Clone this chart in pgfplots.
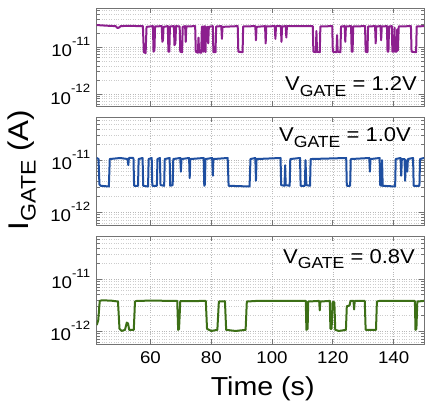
\documentclass[border=0pt]{standalone}
\usepackage{fontspec}
\setmainfont{Liberation Sans}[FakeStretch=1.1]
\usepackage{pgfplots}
\pgfplotsset{compat=1.18}

\definecolor{cpurple}{HTML}{8C1F8E}
\definecolor{cblue}{HTML}{1F4FA0}
\definecolor{cgreen}{HTML}{3C6F16}

\newcommand{\tenpow}[1]{10\raisebox{11.5pt}{\fontsize{12}{13}\selectfont -#1}}
\newcommand{\vg}[1]{\fontsize{20}{22}\selectfont V\raisebox{-5.5pt}{\fontsize{16}{18}\selectfont GATE} = #1V}

\pgfplotsset{
  panel/.style={
    anchor=south west, scale only axis, width=327.3pt,
    xmin=42.3, xmax=150, ymin=5.6e-13, ymax=6.8e-11,
    ytick={1e-12,1e-11}, yticklabels={\tenpow{12},\tenpow{11}},
    minor ytick={6e-13,7e-13,8e-13,9e-13,2e-12,3e-12,4e-12,5e-12,6e-12,7e-12,8e-12,9e-12,
                 2e-11,3e-11,4e-11,5e-11,6e-11},
    xtick={60,80,100,120,140},
    axis line style={black!55, line width=0.9pt},
    major tick style={black!55, line width=0.7pt},
    minor tick style={black!55, line width=0.5pt},
    major tick length=5pt, minor tick length=3pt,
    xmajorgrids, ymajorgrids, yminorgrids,
    major grid style={black!28, dotted, line width=0.6pt},
    minor grid style={black!20, dotted, line width=0.5pt},
    tick label style={font=\fontsize{17}{18}\selectfont},
    yticklabel style={xshift=-3pt},
    /pgf/number format/assume math mode=true,
  }
}

\begin{document}
\begin{tikzpicture}[x=1pt,y=1pt]
\path[use as bounding box] (0,0) rectangle (425,404);

% ---- V_GATE = 1.2 V ------------------------------------------------
\begin{semilogyaxis}[panel, at={(96.7pt,298pt)}, height=98pt, xticklabels={}]
\addplot[cpurple, line width=2pt, line join=round] coordinates {
 (42.3,2.95e-11) (44,2.9e-11) (46,2.85e-11) (48.5,2.8e-11) (49.2,2.55e-11) (49.6,2.6e-11)
 (50.2,2.8e-11) (53,2.85e-11) (56,2.8e-11) (57.5,2.8e-11)
 (57.8,7.8e-12) (58.4,7.5e-12) (58.7,2.7e-11) (60.8,2.8e-11)
 (61.0,8e-12) (61.3,8.5e-12) (61.5,2.75e-11) (63.7,2.8e-11)
 (63.9,1.3e-11) (64.1,1.4e-11) (64.3,2.7e-11) (65.7,2.8e-11)
 (65.9,8e-12) (66.2,8e-12) (66.4,2.75e-11) (67.7,2.8e-11)
 (67.9,1.1e-11) (68.2,1.2e-11) (68.4,2.8e-11) (69.6,2.75e-11)
 (69.8,8e-12) (70.4,7.8e-12) (70.6,2.7e-11) (71.4,2.8e-11)
 (71.6,1.3e-11) (71.8,2.75e-11) (74.7,2.8e-11)
 (74.9,8e-12) (75.6,7.6e-12) (75.8,1.6e-11) (76.0,7.8e-12) (76.7,7.6e-12) (76.9,2.7e-11) (77.2,2.75e-11)
 (77.4,8e-12) (77.6,2.7e-11) (77.9,2.8e-11) (78.1,7.8e-12) (78.3,2.6e-11) (78.8,2.7e-11)
 (79.0,1.2e-11) (79.2,2.7e-11)
 (80.5,2.8e-11) (80.7,7.8e-12) (81.4,7.8e-12) (81.6,2.75e-11) (83.3,2.8e-11) (83.5,1.5e-11) (83.7,2.7e-11)
 (88.7,2.8e-11) (88.9,8e-12) (90.3,7.8e-12) (90.5,2.75e-11)
 (94.5,2.8e-11) (94.7,1.4e-11) (94.9,2.7e-11)
 (97.7,2.8e-11) (97.9,1.2e-11) (98.1,2.75e-11)
 (100.9,2.8e-11) (101.1,1.5e-11) (101.3,2.8e-11)
 (102.9,2.8e-11) (103.1,1.3e-11) (103.3,2.75e-11)
 (104.5,2.8e-11) (104.7,1.6e-11) (104.9,2.8e-11)
 (113.4,2.8e-11) (113.6,8e-12) (114.4,7.8e-12) (114.6,2.2e-11) (114.8,8e-12) (115.7,7.8e-12) (115.9,2.75e-11)
 (119.8,2.8e-11) (120,8e-12) (121.2,7.8e-12) (121.4,1.8e-11) (121.6,8e-12) (122.5,7.8e-12) (122.7,2.75e-11)
 (123.9,2.8e-11) (124.1,1.3e-11) (124.3,2.75e-11)
 (126.0,2.8e-11) (126.2,8e-12) (126.5,8e-12) (126.7,2.75e-11)
 (130.6,2.8e-11) (130.8,8e-12) (131.4,7.8e-12) (131.6,2.75e-11)
 (133.9,2.8e-11) (134.1,1.2e-11) (134.3,2.75e-11)
 (135.7,2.8e-11) (135.9,1.4e-11) (136.1,2.75e-11)
 (137.8,2.8e-11) (138.0,8e-12) (138.3,8e-12) (138.5,2.75e-11)
 (139.4,2.8e-11) (139.6,8e-12) (140.1,8e-12) (140.3,2.6e-11) (140.5,8e-12) (141.0,8e-12)
 (141.2,2.4e-11) (141.4,8.5e-12) (141.7,2.75e-11)
 (145.7,2.8e-11) (145.9,8e-12) (147.4,7.8e-12) (147.6,2.75e-11) (150,2.8e-11)
};
\end{semilogyaxis}

% ---- V_GATE = 1.0 V ------------------------------------------------
\begin{semilogyaxis}[panel, at={(96.7pt,179pt)}, height=108pt, xticklabels={}]
\addplot[cblue, line width=2pt, line join=round] coordinates {
 (42.3,1.1e-11) (42.9,1.05e-11) (43.2,3.4e-12) (43.6,3.2e-12) (46.3,3.1e-12) (46.6,1.05e-11)
 (50,1.1e-11) (52.5,1.05e-11) (52.7,8e-12) (52.9,1.1e-11) (54.4,1.1e-11)
 (54.6,3.2e-12) (55.9,3.2e-12) (56.1,1.05e-11) (57.4,1.1e-11) (57.6,3.2e-12) (59.2,3.1e-12)
 (59.4,1.05e-11) (60.4,1.1e-11) (60.6,3.2e-12) (62.1,3.2e-12) (62.3,1.05e-11) (63.1,1.1e-11)
 (63.3,3.3e-12) (64.5,3.2e-12) (64.7,1.05e-11) (66.3,1.1e-11) (66.5,3.2e-12) (67.3,3.3e-12)
 (67.5,1.05e-11)
 (69.8,1.1e-11) (70,6e-12) (70.2,1.05e-11) (72.7,1.1e-11) (72.9,4.5e-12) (73.1,1.05e-11)
 (77.5,1.1e-11) (77.7,3.2e-12) (77.9,3.4e-12) (78.1,1.05e-11)
 (80.3,1.1e-11) (80.5,5e-12) (80.7,1.05e-11)
 (85.4,1.1e-11) (85.7,3.2e-12) (92.6,3.1e-12) (92.9,1.05e-11) (94.5,1.1e-11) (94.7,4e-12)
 (94.9,1.05e-11)
 (102.8,1.1e-11) (103,3.3e-12) (104.1,3.2e-12) (104.3,8e-12) (104.5,3.3e-12) (105.8,3.2e-12)
 (106.0,1.05e-11)
 (109.2,1.1e-11) (109.4,3.2e-12) (110.8,3.2e-12) (111.0,1.0e-11) (111.3,3.3e-12) (112.5,3.2e-12)
 (112.7,1.05e-11)
 (124.4,1.1e-11) (124.6,3.2e-12) (125.7,3.2e-12) (125.9,1.05e-11)
 (132,1.1e-11) (132.2,6e-12) (132.4,1.05e-11)
 (135.4,1.1e-11) (135.6,3.3e-12) (136.0,3.2e-12) (136.2,1.0e-11) (136.4,3.2e-12) (140.5,3.1e-12)
 (140.7,1.05e-11)
 (142.3,1.1e-11) (142.5,5e-12) (142.7,1.05e-11) (143.6,1.05e-11) (143.8,4e-12) (144,1.0e-11)
 (144.5,6e-12) (144.7,1.05e-11)
 (146.4,1.1e-11) (146.6,3.2e-12) (148.5,3.2e-12) (148.7,1.05e-11) (150,1.1e-11)
};
\end{semilogyaxis}

% ---- V_GATE = 0.8 V ------------------------------------------------
\begin{semilogyaxis}[panel, at={(96.7pt,60pt)}, height=108pt, xticklabel style={yshift=-4pt}]
\addplot[cgreen, line width=2pt, line join=round] coordinates {
 (42.3,1.3e-12) (42.8,1.6e-12) (43.3,3.8e-12) (44,3.9e-12) (47,3.85e-12) (49.3,3.7e-12)
 (49.8,1.1e-12) (50.5,1.0e-12) (51.6,1.05e-12) (52.2,1.45e-12) (52.6,1.4e-12) (53.0,1.05e-12)
 (54.5,1.05e-12) (54.9,3.7e-12) (55.5,3.8e-12) (60,3.85e-12) (68.8,3.8e-12)
 (69.1,1.05e-12) (69.4,1.1e-12) (69.8,3.75e-12) (78.2,3.8e-12)
 (78.6,1.1e-12) (80,1.0e-12) (82,1.05e-12) (82.5,3.7e-12) (84.5,3.75e-12)
 (84.9,1.05e-12) (88,1.0e-12) (91.3,1.05e-12) (91.7,3.7e-12) (95,3.8e-12) (111.1,3.8e-12)
 (111.3,1.05e-12) (111.7,1.1e-12) (111.9,3.7e-12) (115.5,3.8e-12) (115.7,2.5e-12) (115.9,3.7e-12)
 (119,3.8e-12) (119.2,1.1e-12) (119.6,1.1e-12) (119.9,3.6e-12) (120.5,3.6e-12)
 (120.8,1.05e-12) (122,1.0e-12) (124.3,1.05e-12) (124.6,3.0e-12) (125.5,3.1e-12)
 (125.8,3.8e-12) (126.8,3.8e-12) (127,2.6e-12) (127.2,3.8e-12) (130.5,3.8e-12)
 (130.8,1.05e-12) (134.2,1.05e-12) (134.5,3.7e-12) (135.3,3.8e-12) (147.0,3.8e-12)
 (147.2,1.05e-12) (147.5,1.1e-12) (147.8,3.7e-12) (150,3.8e-12)
};
\end{semilogyaxis}

% ---- labels ----------------------------------------------------------
\node[anchor=base east, inner sep=0pt] at (417,313) {\vg{1.2}};
\node[anchor=base east, inner sep=0pt] at (411,262.3) {\vg{1.0}};
\node[anchor=base east, inner sep=0pt] at (415,140.7) {\vg{0.8}};

\node[anchor=base, inner sep=0pt] at (262.7,9) {\fontsize{26}{30}\selectfont Time (s)};
\node[rotate=90, anchor=center, inner sep=0pt] at (22,234)
  {\fontsize{28.5}{32}\selectfont I\raisebox{-7pt}{\fontsize{21}{24}\selectfont GATE} (A)};
\end{tikzpicture}
\end{document}
